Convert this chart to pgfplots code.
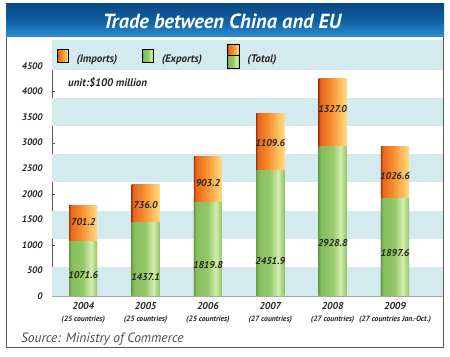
\documentclass[border=0pt]{standalone}
\usepackage{pgfplots}
\pgfplotsset{compat=1.18}
\usepackage{fontspec}
\setmainfont{PT Sans}

\definecolor{band}{HTML}{D3EBEE}
\definecolor{txt}{HTML}{262626}
\definecolor{srcgray}{HTML}{4A4A4A}
\definecolor{frame}{HTML}{5A5A5A}
\definecolor{btop}{HTML}{0B4A85}
\definecolor{bmid}{HTML}{0F5FA2}
\definecolor{bbot}{HTML}{2E8ED2}
% orange
\definecolor{o0}{HTML}{A83A0E}
\definecolor{o1}{HTML}{E8651C}
\definecolor{o2}{HTML}{F58A2C}
\definecolor{o3}{HTML}{FFC866}
\definecolor{o4}{HTML}{FFD98C}
% green
\definecolor{g0}{HTML}{6A9E46}
\definecolor{g1}{HTML}{86BE5E}
\definecolor{g2}{HTML}{96CA6A}
\definecolor{g3}{HTML}{D4EDB0}
\definecolor{g4}{HTML}{A8D480}
\definecolor{g5}{HTML}{90C468}

\pgfdeclarehorizontalshading{orangeshade}{100bp}{color(0bp)=(o0); color(25bp)=(o0); color(28bp)=(o1); color(45bp)=(o2); color(67bp)=(o3); color(75bp)=(o4); color(100bp)=(o4)}
\pgfdeclarehorizontalshading{greenshade}{100bp}{color(0bp)=(g0); color(25bp)=(g0); color(29bp)=(g1); color(50bp)=(g2); color(64bp)=(g3); color(71bp)=(g4); color(75bp)=(g5); color(100bp)=(g5)}

\pgfplotstableread{
x y label
0 411 1071.6
1 372 1437.1
2 606 1819.8
3 685 2451.9
4 1037 2928.8
5 841 1897.6
}\explabels
\pgfplotstableread{
x y label
0 1447 701.2
1 1780 736.0
2 2210 903.2
3 2993 1109.6
4 3658 1327.0
5 2347 1026.6
}\implabels

\pgfplotsset{
  impbar/.style={ybar, bar width=0.45, bar shift=0pt, draw=none, shade, shading=orangeshade, forget plot},
  expbar/.style={ybar, bar width=0.45, bar shift=0pt, draw=none, shade, shading=greenshade, forget plot},
}

\begin{document}
\begin{tikzpicture}
\useasboundingbox (0,0) rectangle (450bp,357bp);

\begin{axis}[
  at={(52bp,61bp)}, anchor=south west,
  scale only axis, width=391bp, height=255.6bp,
  xmin=-0.5, xmax=5.77, ymin=0, ymax=5000,
  axis x line*=bottom, axis y line*=left,
  x axis line style={-, draw=gray!70},
  y axis line style={-, draw=frame, shorten >=25bp},
  tick align=inside,
  ytick={0,500,...,4500},
  yticklabel={\bfseries\itshape\pgfmathprintnumber{\tick}},
  major tick length=3bp,
  minor tick length=3bp,
  y tick style={draw=frame},
  /pgf/number format/assume math mode=true,
  /pgf/number format/1000 sep={},
  yticklabel style={font=\fontsize{9.5}{11}\selectfont\bfseries\itshape, text=txt, xshift=-6bp},
  xtick={0,...,5},
  major x tick style={draw=none},
  minor xtick={0.5,1.5,...,5.5},
  minor x tick style={draw=gray!80},
  xticklabels={
    {{\fontsize{10}{12.5}\selectfont 2004}\\{\fontsize{7.7}{9}\selectfont (25 countries)}},
    {{\fontsize{10}{12.5}\selectfont 2005}\\{\fontsize{7.7}{9}\selectfont (25 countries)}},
    {{\fontsize{10}{12.5}\selectfont 2006}\\{\fontsize{7.7}{9}\selectfont (25 countries)}},
    {{\fontsize{10}{12.5}\selectfont 2007}\\{\fontsize{7.7}{9}\selectfont (27 countries)}},
    {{\fontsize{10}{12.5}\selectfont 2008}\\{\fontsize{7.7}{9}\selectfont (27 countries)}},
    {{\fontsize{10}{12.5}\selectfont 2009}\\{\fontsize{7.7}{9}\selectfont (27 countries Jan.-Oct.)}}
  },
  xticklabel style={align=center, font=\bfseries\itshape, text=txt, inner sep=2bp, yshift=-4bp},
  legend style={draw=none, fill=none, font=\fontsize{11}{12}\selectfont\bfseries\itshape, text=txt,
    at={(axis description cs:0.005,0.937)}, anchor=west, legend columns=3,
    /tikz/every even column/.append style={column sep=23bp},
    /tikz/every odd column/.append style={column sep=6bp}},
  legend cell align=left,
]
% background bands
\addplot[fill=band, draw=none, forget plot] coordinates {(-0.5,0) (5.77,0) (5.77,570) (-0.5,570)} -- cycle;
\addplot[fill=band, draw=none, forget plot] coordinates {(-0.5,1113) (5.77,1113) (5.77,1668) (-0.5,1668)} -- cycle;
\addplot[fill=band, draw=none, forget plot] coordinates {(-0.5,2230) (5.77,2230) (5.77,2780) (-0.5,2780)} -- cycle;
\addplot[fill=band, draw=none, forget plot] coordinates {(-0.5,3328) (5.77,3328) (5.77,3875) (-0.5,3875)} -- cycle;
\addplot[fill=band, draw=none, forget plot] coordinates {(-0.5,4430) (5.77,4430) (5.77,5000) (-0.5,5000)} -- cycle;

% totals (imports on top of exports), one plot per bar for per-bar shading
\addplot[impbar] coordinates {(0,1772.8)};
\addplot[impbar] coordinates {(1,2173.1)};
\addplot[impbar] coordinates {(2,2723.0)};
\addplot[impbar] coordinates {(3,3561.5)};
\addplot[impbar] coordinates {(4,4255.8)};
\addplot[impbar] coordinates {(5,2924.2)};
% exports
\addplot[expbar] coordinates {(0,1071.6)};
\addplot[expbar] coordinates {(1,1437.1)};
\addplot[expbar] coordinates {(2,1819.8)};
\addplot[expbar] coordinates {(3,2451.9)};
\addplot[expbar] coordinates {(4,2928.8)};
\addplot[expbar] coordinates {(5,1897.6)};

% value labels
\addplot[draw=none, mark=none, forget plot, nodes near coords, nodes near coords align=center,
  point meta=explicit symbolic,
  every node near coord/.append style={font=\fontsize{10}{11}\selectfont\bfseries\itshape, text=txt}]
  table[x=x, y=y, meta=label] {\explabels};
\addplot[draw=none, mark=none, forget plot, nodes near coords, nodes near coords align=center,
  point meta=explicit symbolic,
  every node near coord/.append style={font=\fontsize{10}{11}\selectfont\bfseries\itshape, text=txt}]
  table[x=x, y=y, meta=label] {\implabels};

\addlegendimage{legend image code/.code={\shade[shading=orangeshade] (0bp,-3bp) rectangle (11bp,10bp);}}
\addlegendentry{(Imports)}
\addlegendimage{legend image code/.code={\shade[shading=greenshade] (0bp,-3bp) rectangle (11bp,10bp);}}
\addlegendentry{(Exports)}
\addlegendimage{legend image code/.code={\shade[shading=greenshade] (0bp,-9bp) rectangle (12bp,4bp);\shade[shading=orangeshade] (0bp,4bp) rectangle (12bp,15bp);}}
\addlegendentry{(Total)}

\node[anchor=west, font=\fontsize{11}{12}\selectfont\bfseries\itshape, text=txt, inner sep=0pt] at (axis cs:-0.244,4166) {unit:\$100 million};
\end{axis}

\node[anchor=west, inner sep=0pt, font=\fontsize{13.5}{15}\selectfont\itshape, text=srcgray] at (21bp,18bp) {Source: Ministry of Commerce};
% frame
\draw[frame, line width=1bp] (6.5bp,9bp) rectangle (443.5bp,352bp);
% title banner
\shade[top color=btop, bottom color=bbot, middle color=bmid] (6bp,320bp) rectangle (444bp,353bp);
\node[text=white, font=\fontsize{20.5}{22}\selectfont\bfseries\itshape] at (222bp,336bp) {Trade between China and EU};
\end{tikzpicture}
\end{document}
